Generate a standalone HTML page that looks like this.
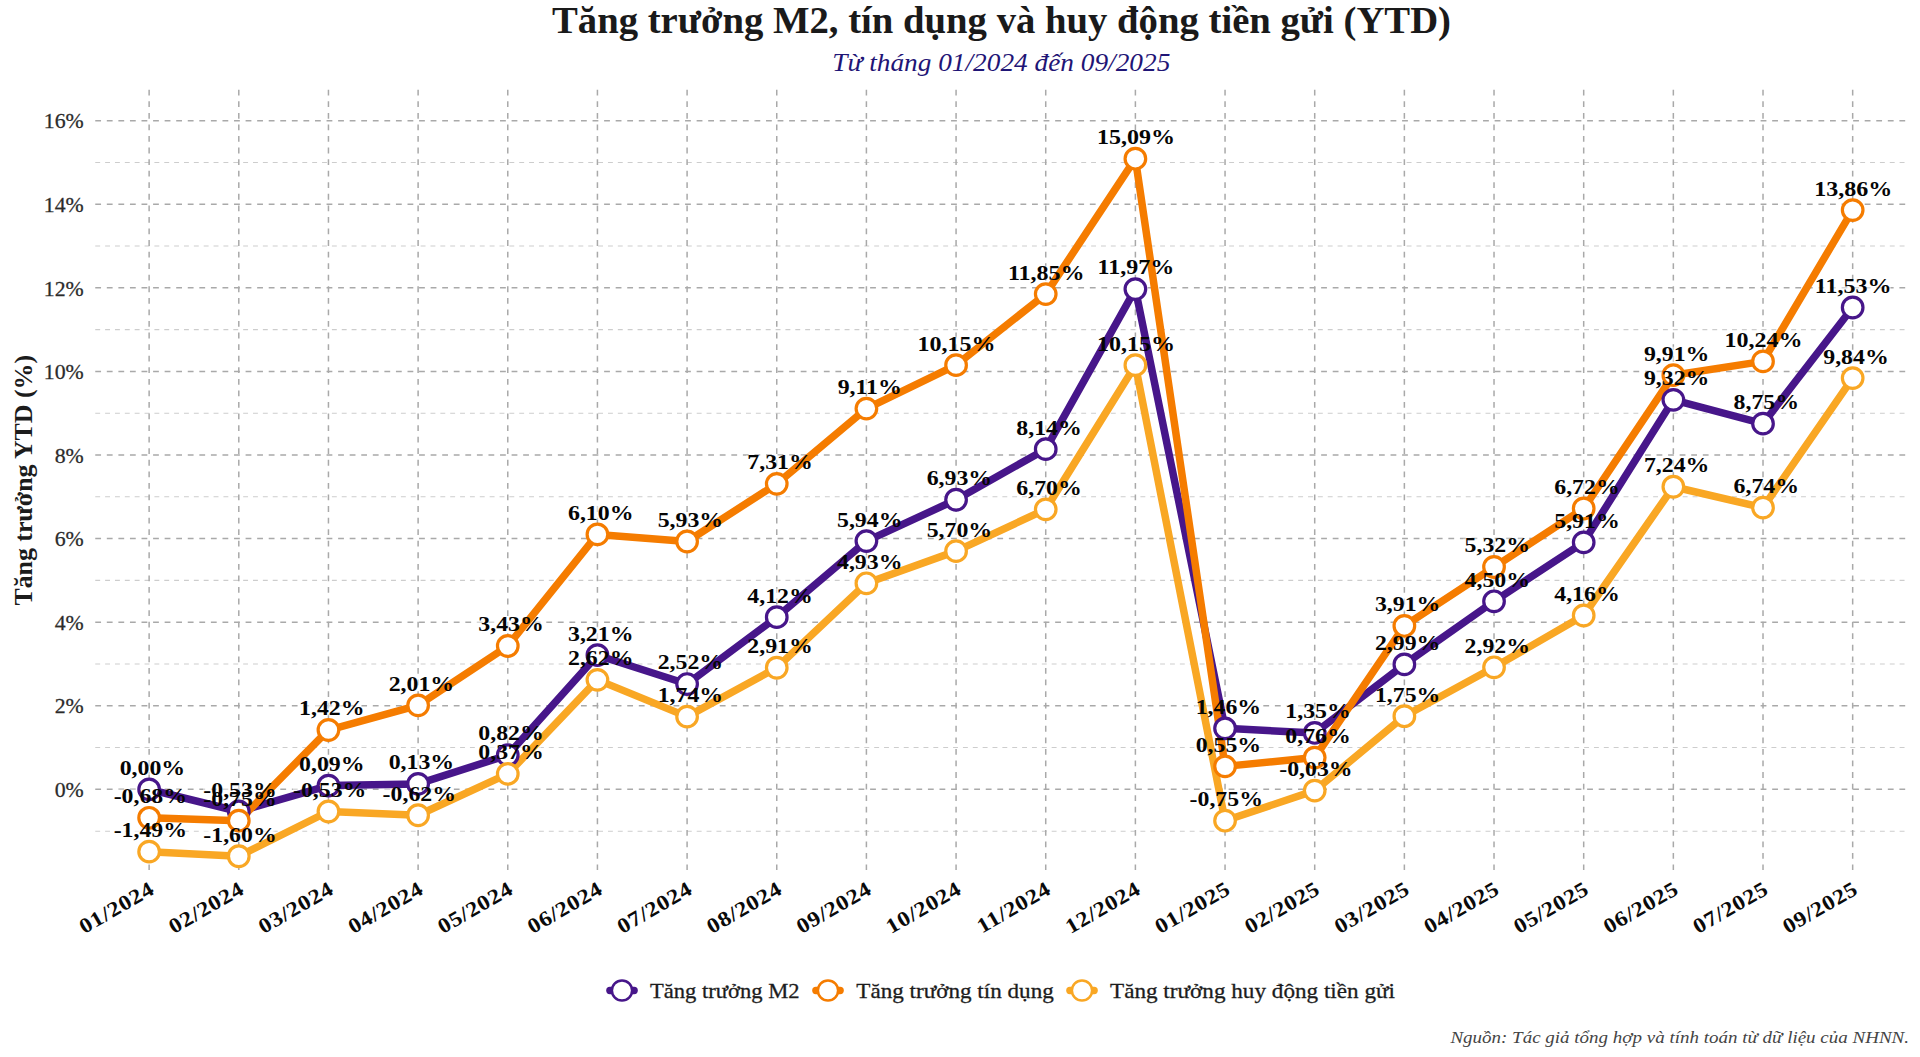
<!DOCTYPE html>
<html lang="vi">
<head>
<meta charset="utf-8">
<title>Tăng trưởng M2, tín dụng và huy động tiền gửi (YTD)</title>
<style>
html,body{margin:0;padding:0;background:#fff;}
body{width:1920px;height:1057px;overflow:hidden;font-family:"Liberation Serif",serif;}
svg{display:block;}
text{font-family:"Liberation Serif",serif;}
.dl{font-weight:bold;font-size:21.6px;fill:#050505;text-anchor:middle;}
.xl{font-weight:bold;font-size:21.2px;letter-spacing:0.6px;fill:#0a0a0a;text-anchor:end;}
.yl{font-size:20px;fill:#2b2b2b;stroke:#2b2b2b;stroke-width:0.25px;text-anchor:end;}
.lg{font-size:22px;fill:#1c1c1c;stroke:#1c1c1c;stroke-width:0.3px;}
</style>
</head>
<body>
<svg width="1920" height="1057" viewBox="0 0 1920 1057">
<rect x="0" y="0" width="1920" height="1057" fill="#ffffff"/>
<g fill="none" stroke="#cdcdcd" stroke-width="1.05" stroke-dasharray="4.9 4.96">
<path d="M95.25 831.15 H1905.3"/>
<path d="M95.25 747.57 H1905.3"/>
<path d="M95.25 663.98 H1905.3"/>
<path d="M95.25 580.39 H1905.3"/>
<path d="M95.25 496.8 H1905.3"/>
<path d="M95.25 413.21 H1905.3"/>
<path d="M95.25 329.63 H1905.3"/>
<path d="M95.25 246.04 H1905.3"/>
<path d="M95.25 162.45 H1905.3"/>
</g>
<g fill="none" stroke="#a9a9a9" stroke-width="1.5" stroke-dasharray="5.8 5.765">
<path d="M95.25 789.36 H1905.3"/>
<path d="M95.25 705.77 H1905.3"/>
<path d="M95.25 622.18 H1905.3"/>
<path d="M95.25 538.6 H1905.3"/>
<path d="M95.25 455.01 H1905.3"/>
<path d="M95.25 371.42 H1905.3"/>
<path d="M95.25 287.83 H1905.3"/>
<path d="M95.25 204.24 H1905.3"/>
<path d="M95.25 120.66 H1905.3"/>
<path d="M149.13 89.75 V870"/>
<path d="M238.79 89.75 V870"/>
<path d="M328.45 89.75 V870"/>
<path d="M418.11 89.75 V870"/>
<path d="M507.77 89.75 V870"/>
<path d="M597.43 89.75 V870"/>
<path d="M687.09 89.75 V870"/>
<path d="M776.75 89.75 V870"/>
<path d="M866.41 89.75 V870"/>
<path d="M956.07 89.75 V870"/>
<path d="M1045.73 89.75 V870"/>
<path d="M1135.39 89.75 V870"/>
<path d="M1225.05 89.75 V870"/>
<path d="M1314.71 89.75 V870"/>
<path d="M1404.37 89.75 V870"/>
<path d="M1494.03 89.75 V870"/>
<path d="M1583.69 89.75 V870"/>
<path d="M1673.35 89.75 V870"/>
<path d="M1763.01 89.75 V870"/>
<path d="M1852.67 89.75 V870"/>
</g>
<g class="yl">
<text transform="translate(83.7 797.06) scale(1.09 1)">0%</text>
<text transform="translate(83.7 713.47) scale(1.09 1)">2%</text>
<text transform="translate(83.7 629.88) scale(1.09 1)">4%</text>
<text transform="translate(83.7 546.3) scale(1.09 1)">6%</text>
<text transform="translate(83.7 462.71) scale(1.09 1)">8%</text>
<text transform="translate(83.7 379.12) scale(1.09 1)">10%</text>
<text transform="translate(83.7 295.53) scale(1.09 1)">12%</text>
<text transform="translate(83.7 211.94) scale(1.09 1)">14%</text>
<text transform="translate(83.7 128.36) scale(1.09 1)">16%</text>
</g>
<g fill="#ffffff" fill-opacity="0.55">
<rect x="118.38" y="760.86" width="63.9" height="14"/>
<rect x="203.09" y="783.01" width="71.4" height="14"/>
<rect x="297.7" y="757.1" width="63.9" height="14"/>
<rect x="387.36" y="755.43" width="63.9" height="14"/>
<rect x="477.02" y="726.59" width="63.9" height="14"/>
<rect x="566.68" y="626.7" width="63.9" height="14"/>
<rect x="656.34" y="655.54" width="63.9" height="14"/>
<rect x="746" y="588.67" width="63.9" height="14"/>
<rect x="835.66" y="512.6" width="63.9" height="14"/>
<rect x="925.32" y="471.23" width="63.9" height="14"/>
<rect x="1014.98" y="420.66" width="63.9" height="14"/>
<rect x="1097.29" y="260.59" width="76.2" height="14"/>
<rect x="1194.3" y="699.84" width="63.9" height="14"/>
<rect x="1283.96" y="704.44" width="63.9" height="14"/>
<rect x="1373.62" y="635.9" width="63.9" height="14"/>
<rect x="1463.28" y="572.79" width="63.9" height="14"/>
<rect x="1552.94" y="513.86" width="63.9" height="14"/>
<rect x="1642.6" y="371.34" width="63.9" height="14"/>
<rect x="1732.26" y="395.16" width="63.9" height="14"/>
<rect x="1814.57" y="278.98" width="76.2" height="14"/>
<rect x="113.43" y="789.28" width="71.4" height="14"/>
<rect x="203.09" y="792.21" width="71.4" height="14"/>
<rect x="297.7" y="701.51" width="63.9" height="14"/>
<rect x="387.36" y="676.85" width="63.9" height="14"/>
<rect x="477.02" y="617.51" width="63.9" height="14"/>
<rect x="566.68" y="505.92" width="63.9" height="14"/>
<rect x="656.34" y="513.02" width="63.9" height="14"/>
<rect x="746" y="455.35" width="63.9" height="14"/>
<rect x="835.66" y="380.12" width="63.9" height="14"/>
<rect x="917.97" y="336.65" width="76.2" height="14"/>
<rect x="1007.63" y="265.6" width="76.2" height="14"/>
<rect x="1097.29" y="130.19" width="76.2" height="14"/>
<rect x="1194.3" y="737.87" width="63.9" height="14"/>
<rect x="1283.96" y="729.1" width="63.9" height="14"/>
<rect x="1373.62" y="597.45" width="63.9" height="14"/>
<rect x="1463.28" y="538.52" width="63.9" height="14"/>
<rect x="1552.94" y="480" width="63.9" height="14"/>
<rect x="1642.6" y="346.68" width="63.9" height="14"/>
<rect x="1724.91" y="332.89" width="76.2" height="14"/>
<rect x="1814.57" y="181.6" width="76.2" height="14"/>
<rect x="113.43" y="823.13" width="71.4" height="14"/>
<rect x="203.09" y="827.73" width="71.4" height="14"/>
<rect x="292.75" y="783.01" width="71.4" height="14"/>
<rect x="382.41" y="786.77" width="71.4" height="14"/>
<rect x="477.02" y="745.4" width="63.9" height="14"/>
<rect x="566.68" y="651.36" width="63.9" height="14"/>
<rect x="656.34" y="688.14" width="63.9" height="14"/>
<rect x="746" y="639.24" width="63.9" height="14"/>
<rect x="835.66" y="554.82" width="63.9" height="14"/>
<rect x="925.32" y="522.63" width="63.9" height="14"/>
<rect x="1014.98" y="480.84" width="63.9" height="14"/>
<rect x="1097.29" y="336.65" width="76.2" height="14"/>
<rect x="1189.35" y="792.21" width="71.4" height="14"/>
<rect x="1279.01" y="762.11" width="71.4" height="14"/>
<rect x="1373.62" y="687.72" width="63.9" height="14"/>
<rect x="1463.28" y="638.82" width="63.9" height="14"/>
<rect x="1552.94" y="587" width="63.9" height="14"/>
<rect x="1642.6" y="458.27" width="63.9" height="14"/>
<rect x="1732.26" y="479.17" width="63.9" height="14"/>
<rect x="1821.92" y="349.61" width="63.9" height="14"/>
</g>
<polyline points="149.13,789.36 238.79,811.51 328.45,785.6 418.11,783.93 507.77,755.09 597.43,655.2 687.09,684.04 776.75,617.17 866.41,541.1 956.07,499.73 1045.73,449.16 1135.39,289.09 1225.05,728.34 1314.71,732.94 1404.37,664.4 1494.03,601.29 1583.69,542.36 1673.35,399.84 1763.01,423.66 1852.67,307.48" fill="none" stroke="#47168a" stroke-width="7.5" stroke-linejoin="round" stroke-linecap="round"/>
<polyline points="149.13,817.78 238.79,820.71 328.45,730.01 418.11,705.35 507.77,646.01 597.43,534.42 687.09,541.52 776.75,483.85 866.41,408.62 956.07,365.15 1045.73,294.1 1135.39,158.69 1225.05,766.37 1314.71,757.6 1404.37,625.95 1494.03,567.02 1583.69,508.5 1673.35,375.18 1763.01,361.39 1852.67,210.1" fill="none" stroke="#f57c00" stroke-width="7.5" stroke-linejoin="round" stroke-linecap="round"/>
<polyline points="149.13,851.63 238.79,856.23 328.45,811.51 418.11,815.27 507.77,773.9 597.43,679.86 687.09,716.64 776.75,667.74 866.41,583.32 956.07,551.13 1045.73,509.34 1135.39,365.15 1225.05,820.71 1314.71,790.61 1404.37,716.22 1494.03,667.32 1583.69,615.5 1673.35,486.77 1763.01,507.67 1852.67,378.11" fill="none" stroke="#f9a724" stroke-width="7.5" stroke-linejoin="round" stroke-linecap="round"/>
<g fill="#ffffff" stroke="#47168a" stroke-width="3.2">
<circle cx="149.13" cy="789.36" r="10.3"/>
<circle cx="238.79" cy="811.51" r="10.3"/>
<circle cx="328.45" cy="785.6" r="10.3"/>
<circle cx="418.11" cy="783.93" r="10.3"/>
<circle cx="507.77" cy="755.09" r="10.3"/>
<circle cx="597.43" cy="655.2" r="10.3"/>
<circle cx="687.09" cy="684.04" r="10.3"/>
<circle cx="776.75" cy="617.17" r="10.3"/>
<circle cx="866.41" cy="541.1" r="10.3"/>
<circle cx="956.07" cy="499.73" r="10.3"/>
<circle cx="1045.73" cy="449.16" r="10.3"/>
<circle cx="1135.39" cy="289.09" r="10.3"/>
<circle cx="1225.05" cy="728.34" r="10.3"/>
<circle cx="1314.71" cy="732.94" r="10.3"/>
<circle cx="1404.37" cy="664.4" r="10.3"/>
<circle cx="1494.03" cy="601.29" r="10.3"/>
<circle cx="1583.69" cy="542.36" r="10.3"/>
<circle cx="1673.35" cy="399.84" r="10.3"/>
<circle cx="1763.01" cy="423.66" r="10.3"/>
<circle cx="1852.67" cy="307.48" r="10.3"/>
</g>
<g fill="#ffffff" stroke="#f57c00" stroke-width="3.2">
<circle cx="149.13" cy="817.78" r="10.3"/>
<circle cx="238.79" cy="820.71" r="10.3"/>
<circle cx="328.45" cy="730.01" r="10.3"/>
<circle cx="418.11" cy="705.35" r="10.3"/>
<circle cx="507.77" cy="646.01" r="10.3"/>
<circle cx="597.43" cy="534.42" r="10.3"/>
<circle cx="687.09" cy="541.52" r="10.3"/>
<circle cx="776.75" cy="483.85" r="10.3"/>
<circle cx="866.41" cy="408.62" r="10.3"/>
<circle cx="956.07" cy="365.15" r="10.3"/>
<circle cx="1045.73" cy="294.1" r="10.3"/>
<circle cx="1135.39" cy="158.69" r="10.3"/>
<circle cx="1225.05" cy="766.37" r="10.3"/>
<circle cx="1314.71" cy="757.6" r="10.3"/>
<circle cx="1404.37" cy="625.95" r="10.3"/>
<circle cx="1494.03" cy="567.02" r="10.3"/>
<circle cx="1583.69" cy="508.5" r="10.3"/>
<circle cx="1673.35" cy="375.18" r="10.3"/>
<circle cx="1763.01" cy="361.39" r="10.3"/>
<circle cx="1852.67" cy="210.1" r="10.3"/>
</g>
<g fill="#ffffff" stroke="#f9a724" stroke-width="3.2">
<circle cx="149.13" cy="851.63" r="10.3"/>
<circle cx="238.79" cy="856.23" r="10.3"/>
<circle cx="328.45" cy="811.51" r="10.3"/>
<circle cx="418.11" cy="815.27" r="10.3"/>
<circle cx="507.77" cy="773.9" r="10.3"/>
<circle cx="597.43" cy="679.86" r="10.3"/>
<circle cx="687.09" cy="716.64" r="10.3"/>
<circle cx="776.75" cy="667.74" r="10.3"/>
<circle cx="866.41" cy="583.32" r="10.3"/>
<circle cx="956.07" cy="551.13" r="10.3"/>
<circle cx="1045.73" cy="509.34" r="10.3"/>
<circle cx="1135.39" cy="365.15" r="10.3"/>
<circle cx="1225.05" cy="820.71" r="10.3"/>
<circle cx="1314.71" cy="790.61" r="10.3"/>
<circle cx="1404.37" cy="716.22" r="10.3"/>
<circle cx="1494.03" cy="667.32" r="10.3"/>
<circle cx="1583.69" cy="615.5" r="10.3"/>
<circle cx="1673.35" cy="486.77" r="10.3"/>
<circle cx="1763.01" cy="507.67" r="10.3"/>
<circle cx="1852.67" cy="378.11" r="10.3"/>
</g>
<g class="dl">
<text transform="translate(152.43 774.76) scale(1.103 1)">0,00%</text>
<text transform="translate(239.99 796.91) scale(1.103 1)">-0,53%</text>
<text transform="translate(331.75 771) scale(1.103 1)">0,09%</text>
<text transform="translate(421.41 769.33) scale(1.103 1)">0,13%</text>
<text transform="translate(511.07 740.49) scale(1.103 1)">0,82%</text>
<text transform="translate(600.73 640.6) scale(1.103 1)">3,21%</text>
<text transform="translate(690.39 669.44) scale(1.103 1)">2,52%</text>
<text transform="translate(780.05 602.57) scale(1.103 1)">4,12%</text>
<text transform="translate(869.71 526.5) scale(1.103 1)">5,94%</text>
<text transform="translate(959.37 485.13) scale(1.103 1)">6,93%</text>
<text transform="translate(1049.03 434.56) scale(1.103 1)">8,14%</text>
<text transform="translate(1135.89 274.49) scale(1.112 1)">11,97%</text>
<text transform="translate(1228.35 713.74) scale(1.103 1)">1,46%</text>
<text transform="translate(1318.01 718.34) scale(1.103 1)">1,35%</text>
<text transform="translate(1407.67 649.8) scale(1.103 1)">2,99%</text>
<text transform="translate(1497.33 586.69) scale(1.103 1)">4,50%</text>
<text transform="translate(1586.99 527.76) scale(1.103 1)">5,91%</text>
<text transform="translate(1676.65 385.24) scale(1.103 1)">9,32%</text>
<text transform="translate(1766.31 409.06) scale(1.103 1)">8,75%</text>
<text transform="translate(1853.17 292.88) scale(1.112 1)">11,53%</text>
<text transform="translate(150.33 803.18) scale(1.103 1)">-0,68%</text>
<text transform="translate(239.99 806.11) scale(1.103 1)">-0,75%</text>
<text transform="translate(331.75 715.41) scale(1.103 1)">1,42%</text>
<text transform="translate(421.41 690.75) scale(1.103 1)">2,01%</text>
<text transform="translate(511.07 631.41) scale(1.103 1)">3,43%</text>
<text transform="translate(600.73 519.82) scale(1.103 1)">6,10%</text>
<text transform="translate(690.39 526.92) scale(1.103 1)">5,93%</text>
<text transform="translate(780.05 469.25) scale(1.103 1)">7,31%</text>
<text transform="translate(869.71 394.02) scale(1.103 1)">9,11%</text>
<text transform="translate(956.57 350.55) scale(1.112 1)">10,15%</text>
<text transform="translate(1046.23 279.5) scale(1.112 1)">11,85%</text>
<text transform="translate(1135.89 144.09) scale(1.112 1)">15,09%</text>
<text transform="translate(1228.35 751.77) scale(1.103 1)">0,55%</text>
<text transform="translate(1318.01 743) scale(1.103 1)">0,76%</text>
<text transform="translate(1407.67 611.35) scale(1.103 1)">3,91%</text>
<text transform="translate(1497.33 552.42) scale(1.103 1)">5,32%</text>
<text transform="translate(1586.99 493.9) scale(1.103 1)">6,72%</text>
<text transform="translate(1676.65 360.58) scale(1.103 1)">9,91%</text>
<text transform="translate(1763.51 346.79) scale(1.112 1)">10,24%</text>
<text transform="translate(1853.17 195.5) scale(1.112 1)">13,86%</text>
<text transform="translate(150.33 837.03) scale(1.103 1)">-1,49%</text>
<text transform="translate(239.99 841.63) scale(1.103 1)">-1,60%</text>
<text transform="translate(329.65 796.91) scale(1.103 1)">-0,53%</text>
<text transform="translate(419.31 800.67) scale(1.103 1)">-0,62%</text>
<text transform="translate(511.07 759.3) scale(1.103 1)">0,37%</text>
<text transform="translate(600.73 665.26) scale(1.103 1)">2,62%</text>
<text transform="translate(690.39 702.04) scale(1.103 1)">1,74%</text>
<text transform="translate(780.05 653.14) scale(1.103 1)">2,91%</text>
<text transform="translate(869.71 568.72) scale(1.103 1)">4,93%</text>
<text transform="translate(959.37 536.53) scale(1.103 1)">5,70%</text>
<text transform="translate(1049.03 494.74) scale(1.103 1)">6,70%</text>
<text transform="translate(1135.89 350.55) scale(1.112 1)">10,15%</text>
<text transform="translate(1226.25 806.11) scale(1.103 1)">-0,75%</text>
<text transform="translate(1315.91 776.01) scale(1.103 1)">-0,03%</text>
<text transform="translate(1407.67 701.62) scale(1.103 1)">1,75%</text>
<text transform="translate(1497.33 652.72) scale(1.103 1)">2,92%</text>
<text transform="translate(1586.99 600.9) scale(1.103 1)">4,16%</text>
<text transform="translate(1676.65 472.17) scale(1.103 1)">7,24%</text>
<text transform="translate(1766.31 493.07) scale(1.103 1)">6,74%</text>
<text transform="translate(1855.97 363.51) scale(1.103 1)">9,84%</text>
</g>
<g class="xl">
<text transform="translate(155.93 892.9) rotate(-30) scale(1.125 1)">01/2024</text>
<text transform="translate(245.59 892.9) rotate(-30) scale(1.125 1)">02/2024</text>
<text transform="translate(335.25 892.9) rotate(-30) scale(1.125 1)">03/2024</text>
<text transform="translate(424.91 892.9) rotate(-30) scale(1.125 1)">04/2024</text>
<text transform="translate(514.57 892.9) rotate(-30) scale(1.125 1)">05/2024</text>
<text transform="translate(604.23 892.9) rotate(-30) scale(1.125 1)">06/2024</text>
<text transform="translate(693.89 892.9) rotate(-30) scale(1.125 1)">07/2024</text>
<text transform="translate(783.55 892.9) rotate(-30) scale(1.125 1)">08/2024</text>
<text transform="translate(873.21 892.9) rotate(-30) scale(1.125 1)">09/2024</text>
<text transform="translate(962.87 892.9) rotate(-30) scale(1.125 1)">10/2024</text>
<text transform="translate(1052.53 892.9) rotate(-30) scale(1.125 1)">11/2024</text>
<text transform="translate(1142.19 892.9) rotate(-30) scale(1.125 1)">12/2024</text>
<text transform="translate(1231.85 892.9) rotate(-30) scale(1.125 1)">01/2025</text>
<text transform="translate(1321.51 892.9) rotate(-30) scale(1.125 1)">02/2025</text>
<text transform="translate(1411.17 892.9) rotate(-30) scale(1.125 1)">03/2025</text>
<text transform="translate(1500.83 892.9) rotate(-30) scale(1.125 1)">04/2025</text>
<text transform="translate(1590.49 892.9) rotate(-30) scale(1.125 1)">05/2025</text>
<text transform="translate(1680.15 892.9) rotate(-30) scale(1.125 1)">06/2025</text>
<text transform="translate(1769.81 892.9) rotate(-30) scale(1.125 1)">07/2025</text>
<text transform="translate(1859.47 892.9) rotate(-30) scale(1.125 1)">09/2025</text>
</g>
<text transform="translate(31.8 605.6) rotate(-90)" font-weight="bold" font-size="25" fill="#1c1c1c" textLength="250.6" lengthAdjust="spacingAndGlyphs">Tăng trưởng YTD (%)</text>
<text x="552" y="33" font-weight="bold" font-size="37.5" fill="#1a1a1a" textLength="899" lengthAdjust="spacingAndGlyphs">Tăng trưởng M2, tín dụng và huy động tiền gửi (YTD)</text>
<text x="832.3" y="70.6" font-style="italic" font-size="24.5" fill="#1f1576" textLength="338" lengthAdjust="spacingAndGlyphs">Từ tháng 01/2024 đến 09/2025</text>
<path d="M609.9 990.5 H634.1" stroke="#47168a" stroke-width="7.4" stroke-linecap="round" fill="none"/>
<circle cx="622" cy="990.5" r="10.1" fill="#fff" stroke="#47168a" stroke-width="2.5"/>
<text class="lg" x="650" y="998" textLength="149.6" lengthAdjust="spacingAndGlyphs">Tăng trưởng M2</text>
<path d="M815.9 990.5 H840.1" stroke="#f57c00" stroke-width="7.4" stroke-linecap="round" fill="none"/>
<circle cx="828" cy="990.5" r="10.1" fill="#fff" stroke="#f57c00" stroke-width="2.5"/>
<text class="lg" x="856.3" y="998" textLength="197.5" lengthAdjust="spacingAndGlyphs">Tăng trưởng tín dụng</text>
<path d="M1069.9 990.5 H1094.1" stroke="#f9a724" stroke-width="7.4" stroke-linecap="round" fill="none"/>
<circle cx="1082" cy="990.5" r="10.1" fill="#fff" stroke="#f9a724" stroke-width="2.5"/>
<text class="lg" x="1110" y="998" textLength="285" lengthAdjust="spacingAndGlyphs">Tăng trưởng huy động tiền gửi</text>
<text x="1450.4" y="1042.6" font-style="italic" font-size="16.7" fill="#444444" textLength="458.6" lengthAdjust="spacingAndGlyphs">Nguồn: Tác giả tổng hợp và tính toán từ dữ liệu của NHNN.</text>
</svg>
</body>
</html>
